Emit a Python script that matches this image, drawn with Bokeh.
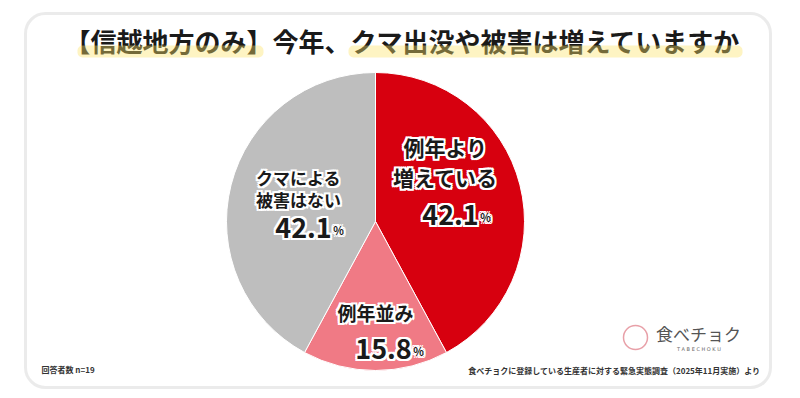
import math
from bokeh.plotting import figure
from bokeh.models import Range1d, BoxAnnotation, ColumnDataSource
from bokeh.core.properties import value
from bokeh.embed import file_html
from bokeh.resources import INLINE

# ---- data ----
title = "【信越地方のみ】今年、クマ出没や被害は増えていますか"
categories = ["例年より増えている", "例年並み", "クマによる被害はない"]
label_lines = [["例年より", "増えている"], ["例年並み"], ["クマによる", "被害はない"]]
values = [42.1, 15.8, 42.1]
colors = ["#d7000f", "#f07a85", "#bebebe"]
sample_note = "回答者数 n=19"
source_note = "食べチョクに登録している生産者に対する緊急実態調査（2025年11月実施）より"
logo_text = "食べチョク"
logo_sub = "T A B E   C H O K U"

FONT = value("Noto Sans CJK JP")
W, H = 800, 398

p = figure(width=W, height=H, output_backend="svg", toolbar_location=None,
           x_range=Range1d(0, W), y_range=Range1d(0, H),
           x_axis_type=None, y_axis_type=None, min_border=0,
           outline_line_color=None, background_fill_color="white",
           border_fill_color="white")
p.grid.visible = False


def Y(py):
    return H - py


# frame
p.add_layout(BoxAnnotation(left=25, right=770, top=Y(13), bottom=Y(387),
                           fill_color=None, line_color="#bdbdbd", line_width=3,
                           border_radius=20))

# title highlights
p.add_layout(BoxAnnotation(left=77, right=263, top=Y(45), bottom=Y(57),
                           fill_color="#fde36a", line_color=None, border_radius=5))
p.add_layout(BoxAnnotation(left=348, right=742, top=Y(45), bottom=Y(57),
                           fill_color="#fde36a", line_color=None, border_radius=5))
p.text(x=[402], y=[Y(40)], text=[title], text_font=FONT, text_font_style="bold",
       text_font_size="26px", text_align="center", text_baseline="middle",
       text_color="#1a1a1a")

# pie
cx, cy, r = 375, Y(221), 149
total = sum(values)
starts, ends = [], []
acc = 0.0
for v in values:
    a0 = math.pi / 2 - 2 * math.pi * acc / total
    acc += v
    a1 = math.pi / 2 - 2 * math.pi * acc / total
    starts.append(a0)
    ends.append(a1)
src = ColumnDataSource(dict(start=starts, end=ends, color=colors, cat=categories, val=values))
p.wedge(x=cx, y=cy, radius=r, radius_units="screen", start_angle="start", end_angle="end",
        direction="clock", fill_color="color", line_color="white", line_width=1, source=src)

HALO = [(dx, dy) for dx in (-2, 0, 2) for dy in (-2, 0, 2) if (dx, dy) != (0, 0)]


def halo_text(x, y, texts, size, align="center"):
    for dx, dy in HALO:
        p.text(x=x, y=y, text=texts, x_offset=dx, y_offset=dy, text_font=FONT,
               text_font_style="bold", text_font_size=size, text_align=align,
               text_baseline="middle", text_color="white")
    p.text(x=x, y=y, text=texts, text_font=FONT, text_font_style="bold",
           text_font_size=size, text_align=align, text_baseline="middle",
           text_color="#1a1a1a")


# slice labels
label_pos = [  # (x, y of first line, line gap, label size, number x, number y)
    (445, 146, 30, "21px", 450, 214),
    (375, 312, 0, "19px", 383, 348),
    (298, 177, 22, "17px", 303, 227),
]
for lines, v, (lx, ly, gap, fs, nx, ny) in zip(label_lines, values, label_pos):
    xs = [lx] * len(lines)
    ys = [Y(ly + i * gap) for i in range(len(lines))]
    halo_text(xs, ys, lines, fs)
    halo_text([nx], [Y(ny)], [f"{v:.1f}"], "27px")
    halo_text([nx + 35], [Y(ny + 2)], ["%"], "11px")

# footnotes
p.text(x=[41], y=[Y(369)], text=[sample_note], text_font=FONT, text_font_style="bold",
       text_font_size="8px", text_align="left", text_baseline="middle", text_color="#333333")
p.text(x=[760], y=[Y(370)], text=[source_note], text_font=FONT, text_font_style="bold",
       text_font_size="8px", text_align="right", text_baseline="middle", text_color="#333333")

# logo
p.scatter(x=[635], y=[Y(337)], size=24, marker="circle", fill_color=None,
          line_color="#e8a0a8", line_width=1.5)
p.text(x=[698], y=[Y(333)], text=[logo_text], text_font=FONT, text_font_style="normal",
       text_font_size="17px", text_align="center", text_baseline="middle", text_color="#555555")
p.text(x=[700], y=[Y(348)], text=[logo_sub], text_font=value("DejaVu Sans"),
       text_font_size="5px", text_align="center", text_baseline="middle", text_color="#666666")

open("out.html", "w").write(file_html(p, INLINE))
